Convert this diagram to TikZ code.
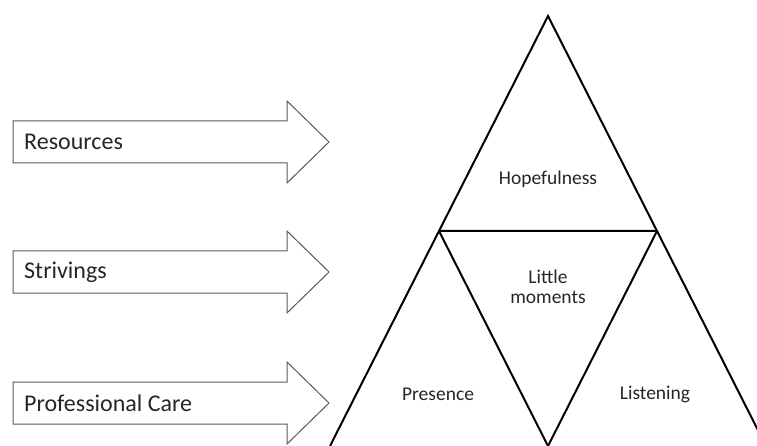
\documentclass[tikz,border=0pt]{standalone}
\usepackage{fontspec}
\setmainfont{Carlito}
\tikzset{>=latex}
\newcommand\fatarrow[3]{
    \draw[line width=1pt,black!65] (13,#2-21) -- (287,#2-21) -- (287,#2-41) -- (329,#2)
        -- (287,#2+41) -- (287,#2+21) -- (13,#2+21) -- cycle;
    \node[anchor=west,inner sep=0pt,text=black!85,font=\fontsize{24}{28}\selectfont] (#1) at (24,#2) {#3};
}

\begin{document}
\begin{tikzpicture}[x=1pt,y=-1pt]
            \useasboundingbox (0,0) rectangle (757,446);
            \clip (0,0) rectangle (757,446);
            \fatarrow{res}{142}{Resources}
            \fatarrow{str}{272}{Strivings}
            \fatarrow{care}{403}{Professional Care}
            \coordinate (top) at (548,16);
            \coordinate (bl)  at (330,446);
            \coordinate (br)  at (766,446);
            \coordinate (ml)  at (439,231);
            \coordinate (mr)  at (657,231);
            \coordinate (mb)  at (548,446);
            \draw[line width=2pt] (bl) -- (top) -- (br);
            \draw[line width=2pt,line join=round] (ml) -- (mr) -- (mb) -- cycle;
            \begin{scope}[every node/.style={text=black!85,align=center,
                    font=\fontsize{19.5}{20}\selectfont}]
                \node (hope)   at (548,179) {Hopefulness};
                \node (little) at (548,287) {Little\\moments};
                \node (pres)   at (438,394) {Presence};
                \node (listen) at (655,394) {Listening};
            \end{scope}
        \end{tikzpicture}
\end{document}
